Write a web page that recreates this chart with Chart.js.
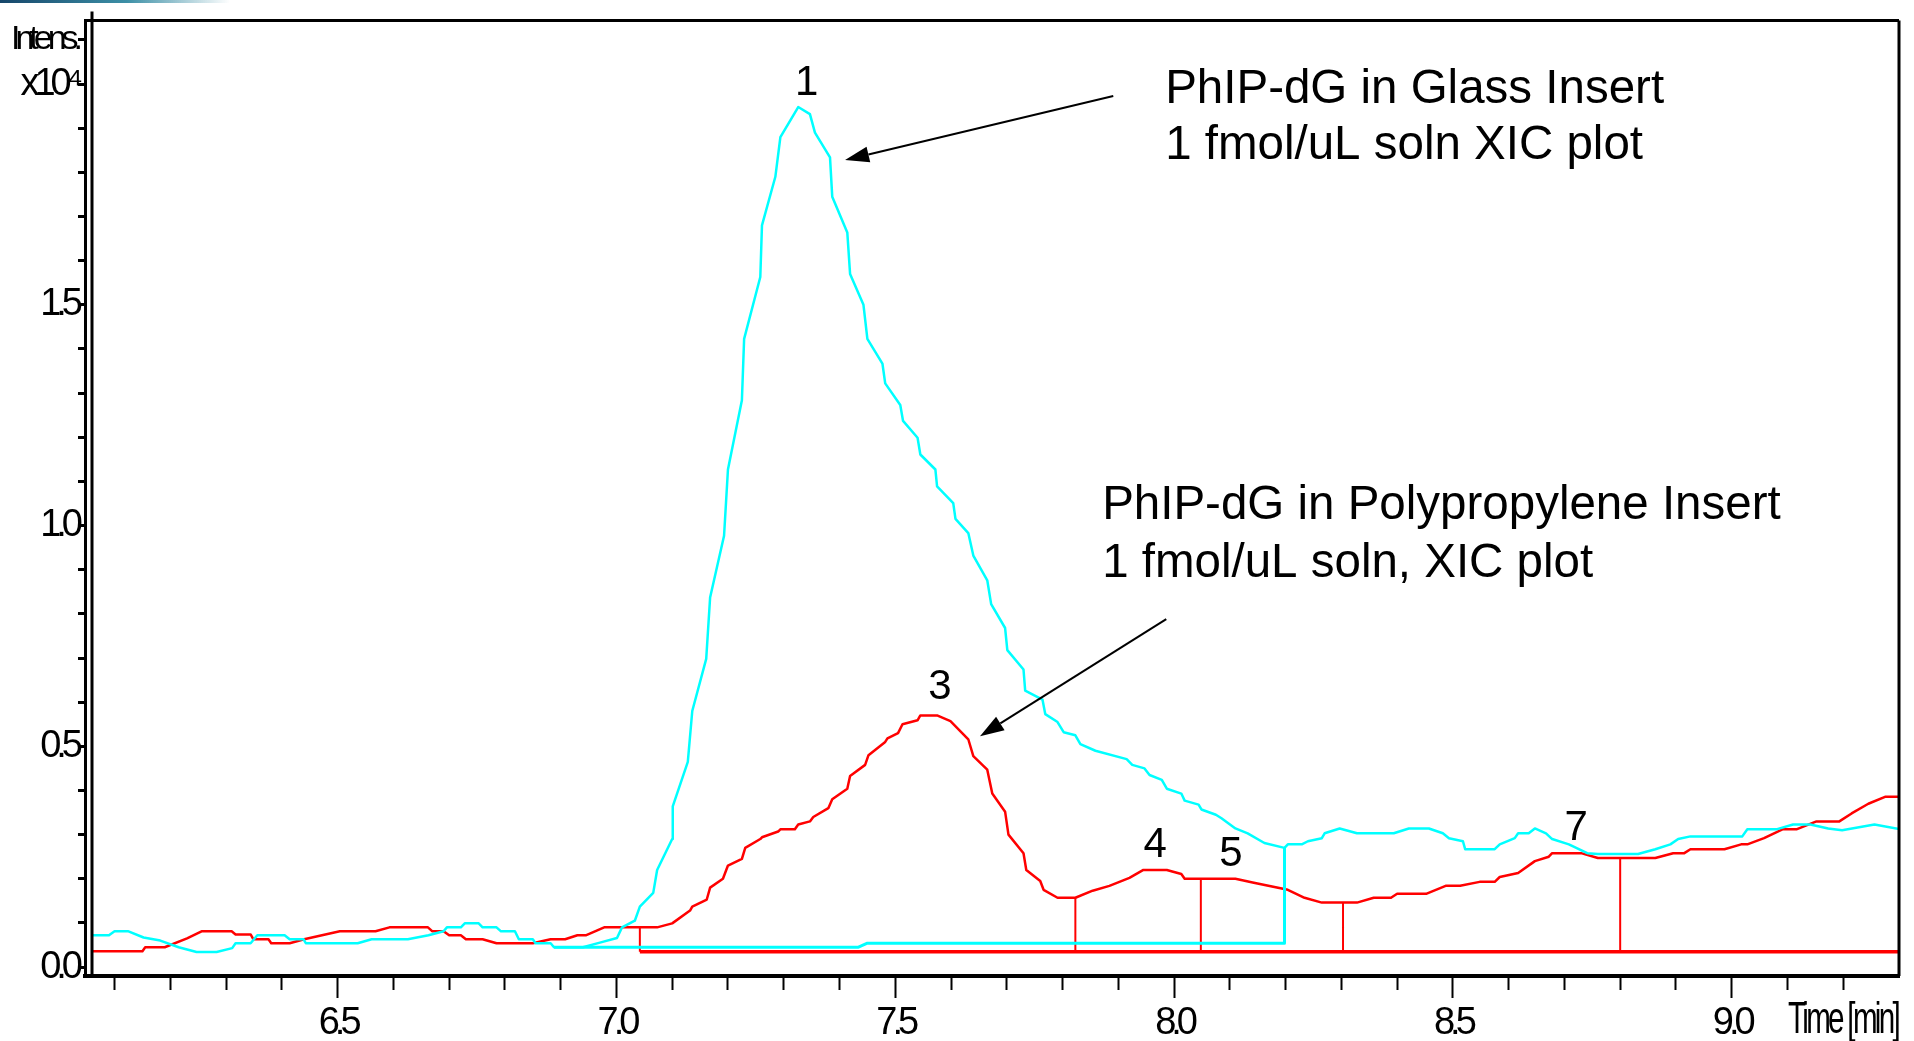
<!DOCTYPE html>
<html>
<head>
<meta charset="utf-8">
<script src="https://cdn.jsdelivr.net/npm/chart.js@4.4.1/dist/chart.umd.min.js"></script>
<style>
  html, body { margin: 0; padding: 0; background: #fff; }
  #wrap { position: relative; width: 1914px; height: 1041px; }
  #strip { position: absolute; left: 0; top: 0; width: 230px; height: 3px;
           background: linear-gradient(to right, #16466a, #3c8fa6 55%, rgba(255,255,255,0)); }
</style>
</head>
<body>
<div id="wrap"><canvas id="xic"></canvas><div id="strip"></div></div>
<script>
// glass insert trace (cyan), time in min, intensity in x10^4
const glassTime = [
  6.06,6.09,6.10,6.125,6.152,6.182,6.215,6.247,6.283,6.311,
  6.317,6.344,6.356,6.405,6.414,6.439,6.443,6.536,6.561,6.626,
  6.663,6.690,6.696,6.721,6.728,6.753,6.760,6.785,6.793,6.818,
  6.825,6.850,6.855,6.882,6.888,6.940,6.972,7.001,7.010,7.033,
  7.042,7.066,7.073,7.100,7.101,7.128,7.136,7.161,7.168,7.193,
  7.200,7.225,7.229,7.258,7.261,7.285,7.294,7.326,7.347,7.356,
  7.383,7.387,7.414,7.419,7.443,7.450,7.477,7.482,7.509,7.514,
  7.540,7.545,7.572,7.575,7.604,7.608,7.631,7.640,7.665,7.672,
  7.697,7.701,7.730,7.733,7.764,7.769,7.791,7.802,7.823,7.832,
  7.859,7.915,7.925,7.947,7.956,7.978,7.987,8.013,8.019,8.044,
  8.049,8.075,8.085,8.110,8.132,8.162,8.198,8.204,8.229,8.240,
  8.265,8.270,8.297,8.328,8.394,8.421,8.457,8.482,8.493,8.518,
  8.522,8.575,8.584,8.611,8.617,8.636,8.647,8.667,8.678,8.708,
  8.741,8.760,8.832,8.863,8.890,8.904,8.926,9.019,9.028,9.080,
  9.110,9.141,9.173,9.198,9.256,9.304
];
const glassIntensity = [
  0.072,0.072,0.081,0.081,0.067,0.060,0.045,0.034,0.034,0.043,
  0.054,0.054,0.072,0.072,0.063,0.063,0.054,0.054,0.063,0.063,
  0.072,0.081,0.090,0.090,0.099,0.099,0.090,0.090,0.081,0.081,
  0.063,0.063,0.054,0.054,0.045,0.045,0.056,0.066,0.090,0.105,
  0.137,0.168,0.220,0.290,0.364,0.465,0.580,0.698,0.837,0.977,
  1.127,1.284,1.423,1.563,1.680,1.790,1.880,1.948,1.932,1.890,
  1.834,1.745,1.664,1.570,1.500,1.423,1.367,1.322,1.273,1.237,
  1.199,1.161,1.127,1.089,1.051,1.015,0.983,0.932,0.876,0.822,
  0.768,0.718,0.674,0.626,0.606,0.573,0.555,0.532,0.525,0.505,
  0.490,0.471,0.458,0.450,0.435,0.424,0.404,0.393,0.377,0.368,
  0.357,0.345,0.337,0.314,0.303,0.281,0.270,0.278,0.278,0.285,
  0.292,0.303,0.314,0.303,0.303,0.314,0.314,0.303,0.292,0.285,
  0.267,0.267,0.278,0.292,0.303,0.303,0.314,0.303,0.290,0.278,
  0.258,0.256,0.256,0.267,0.278,0.290,0.296,0.296,0.312,0.312,
  0.323,0.323,0.314,0.310,0.323,0.312
];

// polypropylene insert trace (red)
const polyTime = [
  6.06,6.15,6.155,6.19,6.23,6.256,6.31,6.317,6.344,6.349,
  6.376,6.381,6.414,6.44,6.504,6.568,6.593,6.662,6.67,6.69,
  6.70,6.721,6.73,6.76,6.785,6.85,6.882,6.908,6.93,6.945,
  6.978,7.073,7.10,7.132,7.136,7.162,7.168,7.191,7.20,7.225,
  7.231,7.258,7.261,7.29,7.294,7.32,7.326,7.347,7.353,7.38,
  7.387,7.414,7.419,7.446,7.452,7.482,7.486,7.505,7.513,7.54,
  7.545,7.575,7.599,7.631,7.64,7.665,7.674,7.697,7.703,7.73,
  7.735,7.76,7.766,7.791,7.823,7.854,7.884,7.92,7.945,7.987,
  8.013,8.019,8.11,8.143,8.204,8.234,8.265,8.328,8.358,8.389,
  8.40,8.452,8.487,8.513,8.548,8.575,8.584,8.617,8.647,8.672,
  8.678,8.73,8.76,8.863,8.895,8.915,8.926,8.987,9.017,9.028,
  9.058,9.091,9.116,9.152,9.193,9.215,9.245,9.276,9.304
];
const polyIntensity = [
  0.036,0.036,0.045,0.045,0.065,0.081,0.081,0.074,0.074,0.063,
  0.063,0.054,0.054,0.063,0.081,0.081,0.090,0.090,0.081,0.081,
  0.072,0.072,0.063,0.063,0.054,0.054,0.063,0.063,0.072,0.072,
  0.090,0.090,0.099,0.128,0.137,0.153,0.180,0.200,0.230,0.245,
  0.270,0.290,0.294,0.307,0.312,0.312,0.323,0.330,0.340,0.360,
  0.380,0.404,0.433,0.458,0.480,0.510,0.518,0.530,0.550,0.559,
  0.570,0.570,0.557,0.516,0.478,0.447,0.393,0.352,0.300,0.258,
  0.220,0.195,0.175,0.157,0.157,0.173,0.184,0.202,0.220,0.220,
  0.211,0.200,0.200,0.191,0.175,0.157,0.146,0.146,0.157,0.157,
  0.166,0.166,0.184,0.184,0.193,0.193,0.204,0.213,0.240,0.250,
  0.258,0.258,0.247,0.247,0.258,0.258,0.267,0.267,0.278,0.278,
  0.292,0.312,0.312,0.330,0.330,0.348,0.370,0.386,0.386
];

// integration baselines
const glassBaseTime = [6.888, 7.434, 7.450, 8.198, 8.198];
const glassBaseIntensity = [0.045, 0.045, 0.054, 0.054, 0.270];
const polyBaseTime = [7.042, 9.304];
const polyBaseIntensity = [0.035, 0.035];

// peak borders on the red trace
const cutTime = [7.042, 7.823, 8.048, 8.303, 8.800];
const cutTop = [0.090, 0.157, 0.200, 0.146, 0.247];

// peak numbers
const peakName = ['1', '3', '4', '5', '7'];
const peakNameTime = [7.341, 7.580, 7.966, 8.102, 8.721];
const peakNameLevel = [1.975, 0.607, 0.249, 0.229, 0.287];

// ticks
const xTicks = [6.1,6.2,6.3,6.4,6.5,6.6,6.7,6.8,6.9,7.0,7.1,7.2,7.3,7.4,7.5,7.6,
  7.7,7.8,7.9,8.0,8.1,8.2,8.3,8.4,8.5,8.6,8.7,8.8,8.9,9.0,9.1,9.2];
const xLabelTicks = [6.5, 7.0, 7.5, 8.0, 8.5, 9.0];
const yTicks = [0,0.1,0.2,0.3,0.4,0.5,0.6,0.7,0.8,0.9,1.0,1.1,1.2,1.3,1.4,1.5,1.6,1.7,1.8,1.9,2.0,2.1];
const yLabelTicks = [0, 0.5, 1.0, 1.5];
const yUnitText = 'x10\u2074';
const yTitleText = 'Intens.';
const xTitleText = 'Time [min]';

const glassCaption = ['PhIP-dG in Glass Insert', '1 fmol/uL soln XIC plot'];
const polyCaption = ['PhIP-dG in Polypropylene Insert', '1 fmol/uL soln, XIC plot'];

const SANS = "'Liberation Sans', Arial, sans-serif";
const CYAN = '#00ffff';
const RED = '#ff0000';

const same = (a, b) => Math.abs(a - b) < 1e-6;
const has = (list, v) => list.some((t) => same(t, v));
const toPoints = (ts, vs) => ts.map((t, i) => ({ x: t, y: vs[i] }));

const cutPoints = cutTime.flatMap((t, i) => [
  { x: t, y: polyBaseIntensity[0] },
  { x: t, y: cutTop[i] },
  { x: t, y: null },
]);

function arrow(ctx, x1, y1, x2, y2) {
  const ang = Math.atan2(y2 - y1, x2 - x1);
  const len = 24, half = 8;
  const bx = x2 - len * Math.cos(ang), by = y2 - len * Math.sin(ang);
  ctx.beginPath();
  ctx.moveTo(x1, y1);
  ctx.lineTo(bx, by);
  ctx.stroke();
  ctx.beginPath();
  ctx.moveTo(x2, y2);
  ctx.lineTo(bx + half * Math.sin(ang), by - half * Math.cos(ang));
  ctx.lineTo(bx - half * Math.sin(ang), by + half * Math.cos(ang));
  ctx.closePath();
  ctx.fill();
}

const notes = {
  id: 'notes',
  // the instrument software squeezes its axis digits together
  beforeDraw(chart) { chart.ctx.letterSpacing = '-5px'; },
  beforeDatasetsDraw(chart) { chart.ctx.letterSpacing = '0px'; },
  afterDatasetsDraw(chart) {
    const { ctx, scales: { x, y } } = chart;
    const px = (t) => x.getPixelForValue(t);
    const py = (v) => y.getPixelForValue(v);
    ctx.save();
    ctx.fillStyle = '#000';
    ctx.strokeStyle = '#000';
    ctx.lineWidth = 2;

    ctx.textAlign = 'center';
    ctx.textBaseline = 'alphabetic';
    ctx.font = `42px ${SANS}`;
    peakName.forEach((n, i) => ctx.fillText(n, px(peakNameTime[i]), py(peakNameLevel[i])));

    arrow(ctx, px(7.891), py(1.973), px(7.410), py(1.828));
    arrow(ctx, px(7.986), py(0.788), px(7.652), py(0.523));

    ctx.textAlign = 'left';
    ctx.font = `47.5px ${SANS}`;
    glassCaption.forEach((s, i) => ctx.fillText(s, px(7.984), py(1.956) + i * 56));
    polyCaption.forEach((s, i) => ctx.fillText(s, px(7.871), py(1.014) + i * 58));
    ctx.restore();
  },
  afterDraw(chart) {
    const { ctx, chartArea: a } = chart;
    ctx.save();
    ctx.strokeStyle = '#000';
    ctx.lineWidth = 3;
    ctx.beginPath();
    ctx.moveTo(a.left, a.top);
    ctx.lineTo(a.right, a.top);
    ctx.moveTo(a.right, a.top);
    ctx.lineTo(a.right, a.bottom);
    ctx.moveTo(a.left + 7, a.top - 9);
    ctx.lineTo(a.left + 7, a.bottom);
    ctx.stroke();

    // x axis title, squeezed like the original
    ctx.fillStyle = '#000';
    ctx.font = `44px ${SANS}`;
    ctx.textAlign = 'right';
    ctx.textBaseline = 'alphabetic';
    ctx.letterSpacing = '-4px';
    const w = ctx.measureText(xTitleText).width;
    ctx.translate(a.right - 1, 1033);
    ctx.scale(110 / w, 1);
    ctx.fillText(xTitleText, 0, 0);
    ctx.restore();
  },
};

new Chart(document.getElementById('xic'), {
  type: 'line',
  data: {
    datasets: [
      { data: toPoints(glassTime, glassIntensity), borderColor: CYAN, borderWidth: 2.5 },
      { data: toPoints(glassBaseTime, glassBaseIntensity), borderColor: CYAN, borderWidth: 3 },
      { data: toPoints(polyTime, polyIntensity), borderColor: RED, borderWidth: 2.5 },
      { data: toPoints(polyBaseTime, polyBaseIntensity), borderColor: RED, borderWidth: 3.5 },
      { data: cutPoints, borderColor: RED, borderWidth: 2, spanGaps: false },
    ],
  },
  options: {
    responsive: true,
    maintainAspectRatio: false,
    animation: false,
    events: [],
    elements: {
      point: { radius: 0 },
      line: { tension: 0, borderJoinStyle: 'round', borderCapStyle: 'butt', fill: false },
    },
    layout: { padding: { top: 12, right: 15, left: 0, bottom: 0 } },
    plugins: { legend: { display: false }, tooltip: { enabled: false } },
    scales: {
      x: {
        type: 'linear',
        min: 6.047,
        max: 9.300,
        afterFit: (s) => { s.height = 65; },
        afterBuildTicks: (s) => { s.ticks = xTicks.map((v) => ({ value: v })); },
        grid: {
          drawOnChartArea: false,
          tickLength: 22,
          tickWidth: 2,
          tickColor: '#000',
          tickBorderDash: (c) => (c.tick && has(xLabelTicks, c.tick.value) ? [] : [12, 60]),
        },
        border: { display: true, color: '#000', width: 4 },
        ticks: {
          color: '#000',
          autoSkip: false,
          maxRotation: 0,
          padding: 3,
          font: { family: SANS, size: 38 },
          callback: (v) => (has(xLabelTicks, v) ? v.toFixed(1) : ''),
        },
      },
      y: {
        min: -0.0202,
        max: 2.1442,
        afterFit: (s) => { s.width = 85; },
        afterBuildTicks: (s) => { s.ticks = yTicks.map((v) => ({ value: v })); },
        grid: { drawOnChartArea: false, tickLength: 7, tickWidth: 3, tickColor: '#000' },
        border: { display: true, color: '#000', width: 3 },
        ticks: {
          color: '#000',
          autoSkip: false,
          padding: 0,
          font: (c) => ({ family: SANS, size: c.tick && same(c.tick.value, 2.1) ? 34 : 38 }),
          callback: (v) => {
            if (same(v, 2.1)) return yTitleText;
            if (same(v, 2.0)) return yUnitText;
            return has(yLabelTicks, v) ? v.toFixed(1) : '';
          },
        },
      },
    },
  },
  plugins: [notes],
});
</script>
</body>
</html>
